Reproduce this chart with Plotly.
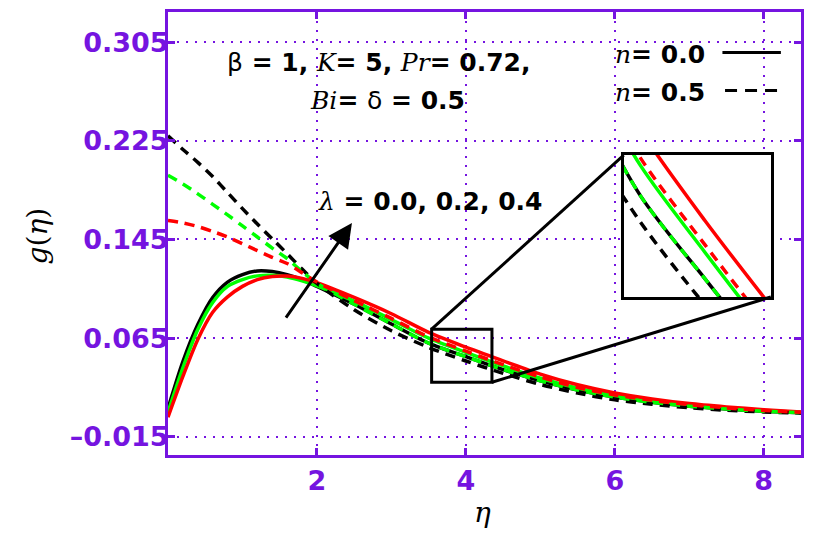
import plotly.graph_objects as go

# similarity variable
eta = [0, 0.2, 0.4, 0.6, 0.8, 1.0, 1.2, 1.4, 1.6, 1.8, 2.0, 2.5, 3.0, 3.5,
       4.0, 4.5, 5.0, 5.5, 6.0, 6.5, 7.0, 7.5, 8.0, 8.5]

# n = 0.0 (solid)
g_n00_l00 = [0.008, 0.046, 0.076, 0.098, 0.1105, 0.1165, 0.1195, 0.119, 0.1165, 0.1125, 0.107, 0.0925,
             0.0765, 0.061, 0.050, 0.0395, 0.0305, 0.023, 0.0172, 0.013, 0.0099, 0.0076, 0.0058, 0.0046]
g_n00_l02 = [0.005, 0.041, 0.072, 0.094, 0.107, 0.1125, 0.1155, 0.116, 0.1145, 0.1115, 0.1075, 0.095,
             0.080, 0.065, 0.0535, 0.0425, 0.0325, 0.0245, 0.0185, 0.0142, 0.0107, 0.0082, 0.0062, 0.0048]
g_n00_l04 = [0.001, 0.034, 0.064, 0.086, 0.0985, 0.107, 0.1125, 0.115, 0.1153, 0.1135, 0.110, 0.098,
             0.0848, 0.0697, 0.0577, 0.0466, 0.0358, 0.0272, 0.0206, 0.0158, 0.012, 0.0093, 0.007, 0.0052]
# n = 0.5 (dashed)
g_n05_l00 = [0.229, 0.218, 0.2075, 0.196, 0.183, 0.170, 0.1575, 0.1455, 0.1335, 0.121, 0.1095, 0.088,
             0.071, 0.0575, 0.0465, 0.0365, 0.0275, 0.0205, 0.015, 0.0114, 0.0086, 0.0066, 0.0052, 0.0044]
g_n05_l02 = [0.197, 0.190, 0.182, 0.1735, 0.165, 0.156, 0.147, 0.138, 0.1295, 0.119, 0.1095, 0.0925,
             0.0765, 0.061, 0.050, 0.0395, 0.0305, 0.023, 0.0172, 0.013, 0.0099, 0.0076, 0.0058, 0.0046]
g_n05_l04 = [0.1605, 0.1585, 0.1555, 0.1515, 0.147, 0.1415, 0.136, 0.1305, 0.1255, 0.118, 0.1105, 0.0955,
             0.081, 0.066, 0.0545, 0.0435, 0.0335, 0.025, 0.019, 0.0146, 0.0111, 0.0085, 0.0064, 0.0049]

x_ticks = [2, 4, 6, 8]
y_ticks = [-0.015, 0.065, 0.145, 0.225, 0.305]
y_ticktext = ["\u20130.015", "0.065", "0.145", "0.225", "0.305"]

PURPLE = "#7514E0"
X_RANGE = [0, 8.5]
Y_RANGE = [-0.0297, 0.3294]

# zoom box on the main axes and where the magnified view sits
box_x, box_y = [3.54, 4.35], [0.0293, 0.0723]
inset_x, inset_y = [6.12, 8.095], [0.0984, 0.2134]
inset_xrange, inset_yrange = [3.37, 4.51], [0.0476, 0.0664]


def to_paper(v, r):
    return (v - r[0]) / (r[1] - r[0])


DASH = "10px,7px"
series = [
    (g_n00_l00, "black", "solid"), (g_n00_l02, "#00FF00", "solid"), (g_n00_l04, "#FF0000", "solid"),
    (g_n05_l00, "black", DASH), (g_n05_l02, "#00FF00", DASH), (g_n05_l04, "#FF0000", DASH),
]

fig = go.Figure()
for ax in ["", "2"]:
    for g, col, dash in series:
        fig.add_trace(go.Scatter(x=eta, y=g, mode="lines", xaxis="x" + ax, yaxis="y" + ax,
                                 line=dict(color=col, width=3.5, dash=dash, shape="spline", smoothing=0.8),
                                 showlegend=False))

SERIF = "font-family:DejaVu Serif;font-style:italic;font-weight:normal"


def it(s):
    return f'<span style="{SERIF}">{s}</span>'


tickfont = dict(family="DejaVu Sans", size=27, color=PURPLE, weight="bold")
axis_common = dict(ticks="inside", ticklen=7, tickwidth=3, tickcolor=PURPLE,
                   showline=True, linewidth=3, linecolor=PURPLE, mirror="ticks",
                   showgrid=True, gridcolor=PURPLE, gridwidth=2, griddash="2px,7px",
                   zeroline=False, tickfont=tickfont)

# page body has an 8px margin, so the figure is sized to fit inside it
fig.update_layout(
    width=811, height=525,
    margin=dict(l=160, r=18, t=1, b=78),
    paper_bgcolor="white", plot_bgcolor="white",
    showlegend=False,
    xaxis=dict(range=X_RANGE, tickvals=x_ticks, **axis_common),
    yaxis=dict(range=Y_RANGE, tickvals=y_ticks, ticktext=y_ticktext, ticklabelstandoff=-9, **axis_common),
    xaxis2=dict(domain=[to_paper(v, X_RANGE) for v in inset_x], range=inset_xrange, anchor="y2",
                showticklabels=False, ticks="", showgrid=False, zeroline=False,
                showline=True, linewidth=3, linecolor="black", mirror=True),
    yaxis2=dict(domain=[to_paper(v, Y_RANGE) for v in inset_y], range=inset_yrange, anchor="x2",
                showticklabels=False, ticks="", showgrid=False, zeroline=False,
                showline=True, linewidth=3, linecolor="black", mirror=True),
)

# white backing for the magnified view, then zoom box and connectors
fig.add_shape(type="rect", xref="x2", yref="y2", x0=inset_xrange[0], x1=inset_xrange[1],
              y0=inset_yrange[0], y1=inset_yrange[1], fillcolor="white", line_width=0, layer="between")
fig.add_shape(type="rect", xref="x", yref="y", x0=box_x[0], x1=box_x[1], y0=box_y[0], y1=box_y[1],
              line=dict(color="black", width=3))
fig.add_shape(type="line", xref="x", yref="y", x0=box_x[0], y0=box_y[1], x1=inset_x[0], y1=inset_y[1],
              line=dict(color="black", width=3))
fig.add_shape(type="line", xref="x", yref="y", x0=box_x[1], y0=box_y[0], x1=inset_x[1], y1=inset_y[0],
              line=dict(color="black", width=3))

# legend keys
fig.add_shape(type="line", xref="x", yref="y", x0=7.445, x1=8.23, y0=0.2966, y1=0.2966,
              line=dict(color="black", width=3))
fig.add_shape(type="line", xref="x", yref="y", x0=7.48, x1=8.25, y0=0.2657, y1=0.2657,
              line=dict(color="black", width=3, dash="12px,8px"))

bold = dict(family="DejaVu Sans", size=25, color="black", weight="bold")
notes = [
    (0.763, 0.2885, f'<span style="font-weight:normal">β</span> = 1, {it("K")}= 5, {it("Pr")}= 0.72,'),
    (1.879, 0.258, f'{it("Bi")}= <span style="font-weight:normal">δ</span> = 0.5'),
    (1.987, 0.1757, f'<span style="{SERIF}">λ</span> = 0.0, 0.2, 0.4'),
    (5.98, 0.295, f'{it("n")}= 0.0'),
    (5.98, 0.2643, f'{it("n")}= 0.5'),
]
for x, y, t in notes:
    fig.add_annotation(x=x, y=y, xref="x", yref="y", text=t, showarrow=False,
                       xanchor="left", yanchor="middle", font=bold)

# arrow for increasing lambda
fig.add_annotation(x=2.47, y=0.1583, ax=1.57, ay=0.0804, xref="x", yref="y", axref="x", ayref="y",
                   text="", showarrow=True, arrowhead=2, arrowsize=1.6, arrowwidth=3, arrowcolor="black")

# axis titles
fig.add_annotation(x=0.4976, y=-0.13, xref="paper", yref="paper", text="<i>η</i>", showarrow=False,
                   xanchor="center", yanchor="middle", font=dict(family="DejaVu Serif", size=28, color="black"))
fig.add_annotation(x=-0.2054, y=0.4955, xref="paper", yref="paper", text="<i>g</i>(<i>η</i>)",
                   showarrow=False, textangle=-90, xanchor="center", yanchor="middle",
                   font=dict(family="DejaVu Serif", size=28, color="black"))

fig.write_html("out.html")
